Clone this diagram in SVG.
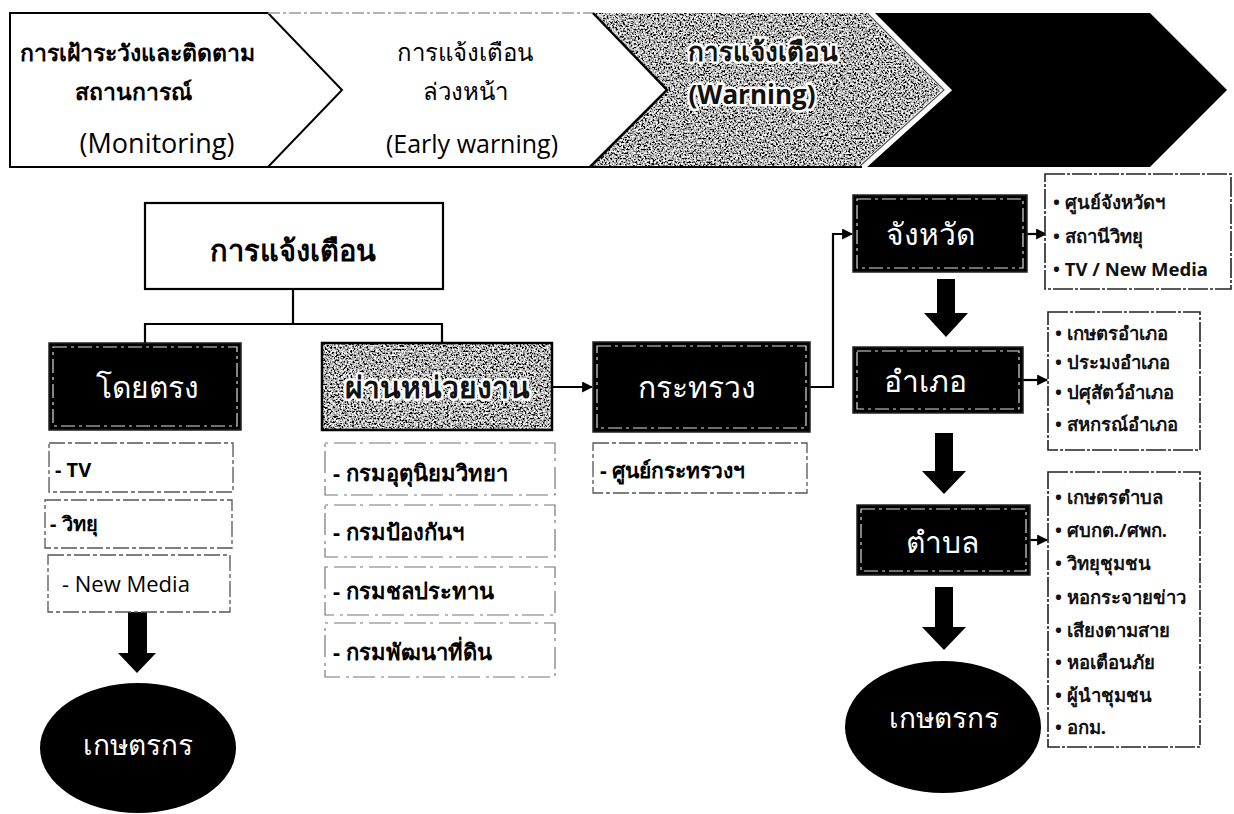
<svg xmlns="http://www.w3.org/2000/svg" width="1234" height="814" viewBox="0 0 1234 814">
<style>
text{font-family:"Noto Sans","DejaVu Sans",sans-serif;}
.lat{font-family:"Open Sans","Noto Sans",sans-serif;}
.c{text-anchor:middle;}
.b{font-weight:bold;}
.wt{fill:#fff;}
.halo{fill:#111;stroke:#fff;stroke-width:5;paint-order:stroke fill;stroke-linejoin:round;}
.line{fill:none;stroke:#000;stroke-width:2.2;}
.blk{fill:#000;stroke:#222;stroke-width:1.5;}
.inner{fill:none;stroke:#ddd;stroke-width:1.2;stroke-dasharray:14 4 3 4;}
.sub{fill:#fff;stroke:#555;stroke-width:1.3;stroke-dasharray:16 3 4 3;}
.sub2{fill:#fff;stroke:#777;stroke-width:1.2;stroke-dasharray:3 6 22 4;}
.lst{fill:#fff;stroke:#222;stroke-width:1.6;stroke-dasharray:20 2 3 2;}
.fat{fill:#000;}
.it{font-size:18.5px;font-weight:bold;fill:#111;}
</style>
<defs>
<filter id="grain" x="0" y="0" width="100%" height="100%">
<feTurbulence type="fractalNoise" baseFrequency="0.55" numOctaves="3" seed="7" result="n"/>
<feColorMatrix in="n" type="matrix" values="3 0 0 0 -1.05  3 0 0 0 -1.05  3 0 0 0 -1.05  0 0 0 0 1" result="g"/>
<feComposite in="g" in2="SourceGraphic" operator="in"/>
</filter>
<marker id="ah" viewBox="0 0 10 10" refX="9" refY="5" markerWidth="5" markerHeight="5" orient="auto" markerUnits="strokeWidth">
<path d="M0,0 L10,5 L0,10 z" fill="#000"/>
</marker>
</defs>

<g id="banner">
<polygon points="268,13 593,13 667,90 590,167 268,167 342,90" fill="#fff"/>
<polygon points="10,13 268,13 342,90 268,167 10,167" fill="#fff" stroke="#000" stroke-width="2"/>
<polygon points="593,13 870,13 947,90 862,167 590,167 667,90" fill="#fff" filter="url(#grain)"/>
<polygon points="870,13 1150,13 1227,90 1150,167 862,167 947,90" fill="#000"/>
<polyline points="870,13 947,90 862,167" fill="none" stroke="#fff" stroke-width="7"/>
<polyline points="868,14 944,90 860,166" fill="none" stroke="#555" stroke-width="1.2"/>
<line x1="268" y1="13" x2="593" y2="13" stroke="#999" stroke-width="1.5" stroke-dasharray="12 3 3 3"/>
<line x1="268" y1="167" x2="862" y2="167" stroke="#000" stroke-width="2"/>
<polyline points="593,13 667,90 590,167" fill="none" stroke="#000" stroke-width="2.5"/>
<text class="c b" x="137" y="61" font-size="23">การเฝ้าระวังและติดตาม</text>
<text class="c b" x="133" y="100" font-size="23">สถานการณ์</text>
<text class="c lat" x="157" y="153" font-size="27">(Monitoring)</text>
<text class="c" x="465" y="61" font-size="24">การแจ้งเตือน</text>
<text class="c" x="465" y="100" font-size="24">ล่วงหน้า</text>
<text class="c lat" x="472" y="153" font-size="25">(Early warning)</text>
<text class="c b halo" x="763" y="61" font-size="26">การแจ้งเตือน</text>
<text class="c b lat halo" x="752" y="104" font-size="26">(Warning)</text>
</g>

<g id="connectors">
<path class="line" d="M293,289 V324"/>
<path class="line" d="M145,343 V324 H442 V343"/>
<path class="line" d="M552,387 H592" marker-end="url(#ah)"/>
<path class="line" d="M810,387 H833 V234 H852" marker-end="url(#ah)"/>
<path class="line" d="M1027,234 H1046" marker-end="url(#ah)"/>
<path class="line" d="M1023,380 H1047" marker-end="url(#ah)"/>
<path class="line" d="M1030,540 H1047" marker-end="url(#ah)"/>
<polygon class="fat" points="128,612 147,612 147,653 156,653 137,673 118,653 128,653"/>
<polygon class="fat" points="937,279 955,279 955,313 968,313 946,337 924,313 937,313"/>
<polygon class="fat" points="935,433 953,433 953,471 966,471 944,494 922,471 935,471"/>
<polygon class="fat" points="935,587 953,587 953,627 966,627 944,650 922,627 935,627"/>
</g>

<g id="n-warning">
<rect x="145" y="203" width="298" height="86" fill="#fff" stroke="#000" stroke-width="2.2"/>
<text class="c b" x="293" y="261" font-size="29">การแจ้งเตือน</text>
</g>

<g id="n-direct">
<rect class="blk" x="49" y="343" width="192" height="87"/>
<rect class="inner" x="53" y="347" width="184" height="79"/>
<text class="c wt" x="147" y="398" font-size="30">โดยตรง</text>
</g>

<g id="n-agency">
<rect x="322" y="343" width="230" height="87" fill="#fff" filter="url(#grain)"/>
<rect x="322" y="343" width="230" height="87" fill="none" stroke="#000" stroke-width="2.5"/>
<text class="c b halo" x="437" y="398" font-size="30">ผ่านหน่วยงาน</text>
</g>

<g id="n-tv"><rect class="sub" x="49" y="443" width="184" height="49"/><text class="b" x="55" y="477" font-size="20">- TV</text></g>
<g id="n-radio"><rect class="sub" x="45" y="500" width="187" height="48"/><text class="b" x="50" y="531" font-size="20">- วิทยุ</text></g>
<g id="n-newmedia"><rect class="sub" x="48" y="555" width="182" height="57"/><text class="lat" x="62" y="592" font-size="22">- New Media</text></g>

<g id="n-farmer-left">
<ellipse cx="138" cy="748" rx="98" ry="65" fill="#000"/>
<text class="c wt" x="138" y="755" font-size="28">เกษตรกร</text>
</g>

<g id="n-tmd"><rect class="sub2" x="325" y="443" width="230" height="52"/><text class="b" x="333" y="481" font-size="22">- กรมอุตุนิยมวิทยา</text></g>
<g id="n-dpm"><rect class="sub2" x="325" y="505" width="230" height="52"/><text class="b" x="333" y="540" font-size="22">- กรมป้องกันฯ</text></g>
<g id="n-rid"><rect class="sub2" x="325" y="567" width="230" height="48"/><text class="b" x="333" y="599" font-size="22">- กรมชลประทาน</text></g>
<g id="n-ldd"><rect class="sub2" x="325" y="623" width="230" height="54"/><text class="b" x="333" y="660" font-size="22">- กรมพัฒนาที่ดิน</text></g>

<g id="n-ministry">
<rect class="blk" x="593" y="342" width="217" height="90"/>
<rect class="inner" x="597" y="346" width="209" height="82"/>
<text class="c wt" x="697" y="398" font-size="30">กระทรวง</text>
</g>
<g id="n-ministry-center"><rect class="sub" x="593" y="443" width="214" height="50"/><text class="b" x="600" y="478" font-size="21">- ศูนย์กระทรวงฯ</text></g>

<g id="n-province">
<rect class="blk" x="853" y="195" width="174" height="77"/>
<rect class="inner" x="857" y="199" width="166" height="69"/>
<text class="c wt" x="930" y="245" font-size="30">จังหวัด</text>
</g>
<g id="n-list1">
<rect class="lst" x="1045" y="174" width="186" height="115"/>
<text class="it" x="1053" y="209">• ศูนย์จังหวัดฯ</text>
<text class="it" x="1053" y="243">• สถานีวิทยุ</text>
<text class="it" x="1053" y="276">• TV / New Media</text>
</g>

<g id="n-district">
<rect class="blk" x="853" y="347" width="170" height="66"/>
<rect class="inner" x="857" y="351" width="162" height="58"/>
<text class="c wt" x="925" y="392" font-size="30">อำเภอ</text>
</g>
<g id="n-list2">
<rect class="lst" x="1048" y="312" width="152" height="138"/>
<text class="it" x="1055" y="340">• เกษตรอำเภอ</text>
<text class="it" x="1055" y="369">• ประมงอำเภอ</text>
<text class="it" x="1055" y="399">• ปศุสัตว์อำเภอ</text>
<text class="it" x="1055" y="431">• สหกรณ์อำเภอ</text>
</g>

<g id="n-subdistrict">
<rect class="blk" x="857" y="505" width="173" height="70"/>
<rect class="inner" x="861" y="509" width="165" height="62"/>
<text class="c wt" x="942" y="553" font-size="30">ตำบล</text>
</g>
<g id="n-list3">
<rect class="lst" x="1048" y="472" width="152" height="275"/>
<text class="it" x="1055" y="504">• เกษตรตำบล</text>
<text class="it" x="1055" y="537">• ศบกต./ศพก.</text>
<text class="it" x="1055" y="570">• วิทยุชุมชน</text>
<text class="it" x="1055" y="604">• หอกระจายข่าว</text>
<text class="it" x="1055" y="637">• เสียงตามสาย</text>
<text class="it" x="1055" y="669">• หอเตือนภัย</text>
<text class="it" x="1055" y="702">• ผู้นำชุมชน</text>
<text class="it" x="1055" y="734">• อกม.</text>
</g>

<g id="n-farmer-right">
<ellipse cx="943" cy="727" rx="98" ry="66" fill="#000"/>
<text class="c wt" x="944" y="728" font-size="28">เกษตรกร</text>
</g>
</svg>
